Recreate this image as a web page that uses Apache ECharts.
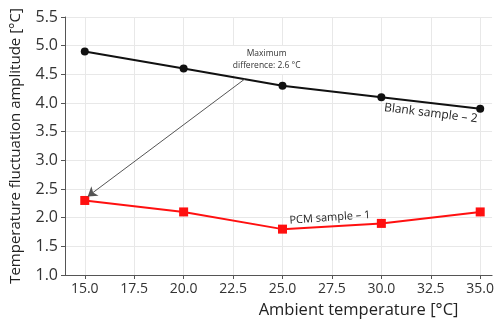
<!DOCTYPE html>
<html>
<head>
<meta charset="utf-8">
<script src="https://cdn.jsdelivr.net/npm/echarts@6/dist/echarts.min.js"></script>
<style>
  html, body { margin: 0; padding: 0; background: #fff; }
  #chart { width: 497px; height: 324px; }
</style>
</head>
<body>
<div id="chart"></div>
<script>
// ambient temperature (x) and the two measured series
const ambientTemps = [15, 20, 25, 30, 35]
const blankValues = [4.9, 4.6, 4.3, 4.1, 3.9]
const pcmValues = [2.3, 2.1, 1.8, 1.9, 2.1]
const xTicks = [15, 17.5, 20, 22.5, 25, 27.5, 30, 32.5, 35]

const toPairs = (vals) => ambientTemps.map((t, i) => [t, vals[i]])

const font = 'Open Sans, Noto Sans, DejaVu Sans, sans-serif'

const chart = echarts.init(document.getElementById('chart'), null, { renderer: 'canvas' })

const option = {
  animation: false,
  backgroundColor: '#fff',
  grid: { left: 63, right: 4, top: 17, bottom: 44, containLabel: false },
  xAxis: {
    type: 'value',
    min: 14,
    max: 35.6,
    interval: 2.5,
    name: 'Ambient temperature [°C]',
    nameLocation: 'middle',
    nameGap: 27,
    nameTextStyle: { fontFamily: font, fontSize: 16.5, color: '#222', padding: [0, 0, 0, 160] },
    axisLine: { lineStyle: { color: '#555', width: 1 } },
    axisTick: { show: true, length: 4, lineStyle: { color: '#555' }, customValues: xTicks },
    axisLabel: {
      fontFamily: font, fontSize: 14, color: '#333', margin: 7,
      customValues: xTicks,
      formatter: (v) => v.toFixed(1)
    },
    splitLine: { show: true, lineStyle: { color: '#e8e8e8' } }
  },
  yAxis: {
    type: 'value',
    min: 1,
    max: 5.5,
    interval: 0.5,
    name: 'Temperature fluctuation amplitude [°C]',
    nameLocation: 'middle',
    nameGap: 42,
    nameTextStyle: { fontFamily: font, fontSize: 15, color: '#222' },
    axisLine: { show: true, lineStyle: { color: '#555', width: 1 } },
    axisTick: { show: true, length: 4, lineStyle: { color: '#555' } },
    axisLabel: {
      fontFamily: font, fontSize: 16, color: '#333', margin: 7,
      formatter: (v) => v.toFixed(1)
    },
    splitLine: { show: true, lineStyle: { color: '#e8e8e8' } }
  },
  series: [
    {
      name: 'Blank sample – 2',
      type: 'line',
      data: toPairs(blankValues),
      symbol: 'circle',
      symbolSize: 8,
      itemStyle: { color: '#111' },
      lineStyle: { color: '#111', width: 2 },
      markPoint: {
        symbol: 'circle',
        symbolSize: 0,
        data: [
          {
            coord: [32.5, 3.82],
            label: {
              show: true, formatter: 'Blank sample – 2', rotate: -7,
              fontFamily: font, fontSize: 12, color: '#222'
            }
          }
        ]
      }
    },
    {
      name: 'PCM sample – 1',
      type: 'line',
      data: toPairs(pcmValues),
      symbol: 'rect',
      symbolSize: 9,
      itemStyle: { color: '#ff1010' },
      lineStyle: { color: '#ff1010', width: 2 },
      markPoint: {
        symbol: 'circle',
        symbolSize: 0,
        data: [
          {
            coord: [27.4, 2.0],
            label: {
              show: true, formatter: 'PCM sample – 1', rotate: 4,
              fontFamily: font, fontSize: 11, color: '#222'
            }
          },
          {
            coord: [24.2, 4.75],
            label: {
              show: true, formatter: 'Maximum\ndifference: 2.6 °C',
              fontFamily: font, fontSize: 8.5, color: '#333', lineHeight: 12,
              backgroundColor: '#fff', padding: [2, 4]
            }
          }
        ]
      }
    },
    {
      // annotation arrow, drawn on top of the markers
      name: 'arrow',
      type: 'line',
      data: [],
      z: 5,
      markLine: {
        silent: true,
        symbol: ['none', 'arrow'],
        symbolSize: 9,
        lineStyle: { color: '#555', width: 1, type: 'solid' },
        itemStyle: { color: '#555' },
        label: { show: false },
        data: [[{ coord: [23.1, 4.42] }, { coord: [15.15, 2.37] }]]
      }
    }
  ]
}

chart.setOption(option)
</script>
</body>
</html>
